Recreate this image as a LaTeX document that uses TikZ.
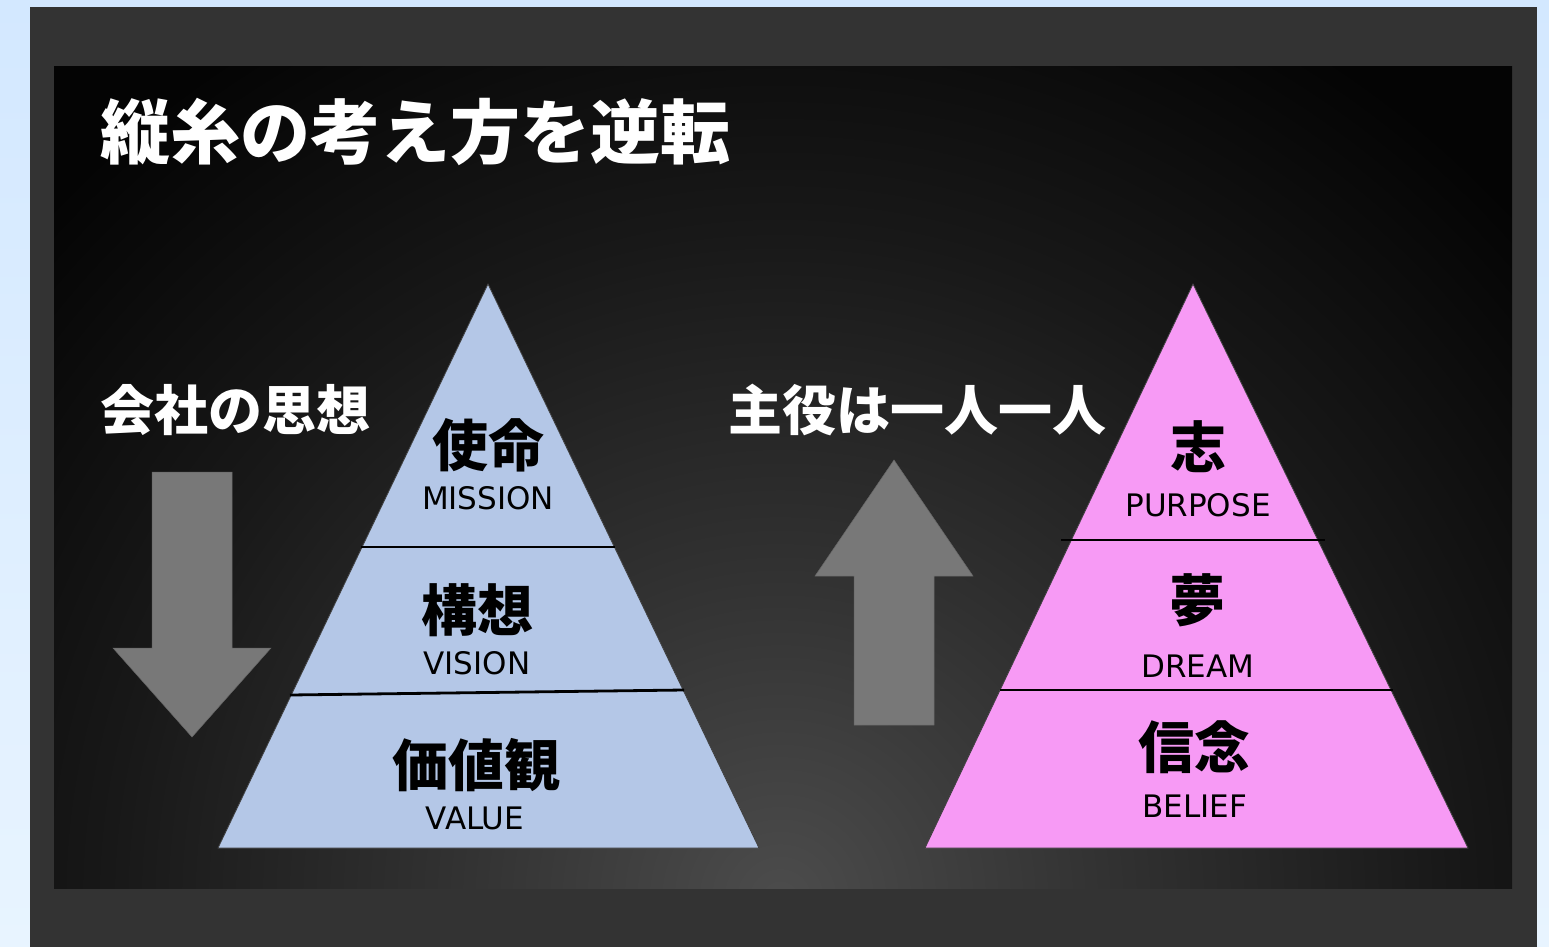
\documentclass[tikz,border=0pt]{standalone}
\usepackage{fontspec}
\newfontfamily\jp{Noto Sans CJK JP}
\newfontfamily\lat{DejaVu Sans}
\definecolor{bgtop}{HTML}{D3E8FF}
\definecolor{bgbot}{HTML}{E8F4FF}
\definecolor{frame}{HTML}{333333}
\definecolor{g0}{HTML}{4C4C4C}
\definecolor{g1}{HTML}{313131}
\definecolor{g2}{HTML}{181818}
\definecolor{g3}{HTML}{040404}
\definecolor{pyrblue}{HTML}{B4C7E7}
\definecolor{pyrpink}{HTML}{F79AF5}
\definecolor{arrowgray}{HTML}{787878}
\pgfdeclareradialshading{glow}{\pgfpoint{0bp}{0bp}}{color(0bp)=(g0); color(7bp)=(g1); color(14bp)=(g2); color(21bp)=(g3); color(50bp)=(g3)}
\tikzset{
  kanji/.style={font=\jp\bfseries\fontsize{56}{60}\selectfont, text=black, inner sep=0pt},
  eng/.style={font=\lat\fontsize{31}{34}\selectfont, text=black, inner sep=0pt},
  heading/.style={font=\jp\bfseries\fontsize{54}{60}\selectfont, text=white, inner sep=0pt, anchor=west},
  titletext/.style={font=\jp\bfseries\fontsize{70}{76}\selectfont, text=white, inner sep=0pt, anchor=west},
  pyr/.style={draw=black!75, line width=0.8pt, line join=miter},
  divider/.style={draw=black, line width=2.8pt},
  bigarrow/.style={fill=arrowgray, draw=black!60, line width=0.5pt}
}
\begin{document}
\begin{tikzpicture}[x=1pt,y=-1pt]
\useasboundingbox (0,0) rectangle (1549,947);
% background
\shade[top color=bgtop, bottom color=bgbot] (0,0) rectangle (1549,947);
\fill[frame] (30,7) rectangle (1537,947);
\begin{scope}
  \clip (54,67) rectangle (1512,888);
  \fill[g3] (54,67) rectangle (1512,888);
  \shade[shading=glow] (780,900) circle[radius=1200pt];
\end{scope}
% title
\node[titletext] (title) at (100,132) {縦糸の考え方を逆転};
% left
\node[heading] (lefthead) at (100,410) {会社の思想};
\fill[bigarrow] (152,472) -- (232,472) -- (232,648) -- (271,648) -- (192,737) -- (113,648) -- (152,648) -- cycle;
\fill[pyrblue] (488,284) -- (759,848) -- (218,848) -- cycle;
\draw[pyr] (488,284) -- (759,848) -- (218,848) -- cycle;
\draw[divider] (361,547) -- (615,547);
\draw[divider] (290,695) -- (684,690);
\node[kanji] (mission) at (488,445) {使命};
\node[eng] (missione) at (488,498) {MISSION};
\node[kanji] (vision) at (477,610) {構想};
\node[eng] (visione) at (477,663) {VISION};
\node[kanji] (value) at (476,765) {価値観};
\node[eng] (valuee) at (475,818) {VALUE};
% right
\node[heading] (righthead) at (728,410) {主役は一人一人};
\fill[bigarrow] (854,725) -- (934,725) -- (934,576) -- (973,576) -- (894,460) -- (815,576) -- (854,576) -- cycle;
\fill[pyrpink] (1193,284) -- (1468,848) -- (925,848) -- cycle;
\draw[pyr] (1193,284) -- (1468,848) -- (925,848) -- cycle;
\draw[divider] (1061,540) -- (1325,540);
\draw[divider] (1000,690) -- (1393,690);
\node[kanji] (purpose) at (1198,447) {志};
\node[eng] (purposee) at (1198,505) {PURPOSE};
\node[kanji] (dream) at (1197,600) {夢};
\node[eng] (dreame) at (1198,666) {DREAM};
\node[kanji] (belief) at (1194,747) {信念};
\node[eng] (beliefe) at (1195,806) {BELIEF};
\end{tikzpicture}
\end{document}
